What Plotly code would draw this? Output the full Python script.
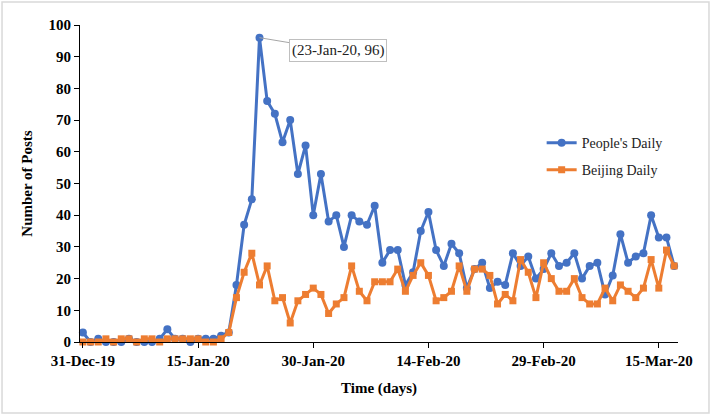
import pandas as pd
import plotly.graph_objects as go

start_date = "2019-12-31"
n_days = 78
dates = pd.date_range(start_date, periods=n_days, freq="D")

peoples_daily = [3, 0, 1, 0, 0, 0, 1, 0, 0, 0, 1, 4, 1, 1, 0, 1, 1, 1, 2, 3,
                 18, 37, 45, 96, 76, 72, 63, 70, 53, 62,
                 40, 53, 38, 40, 30, 40, 38, 37, 43, 25,
                 29, 29, 18, 22, 35, 41, 29, 24, 31, 28,
                 17, 23, 25, 17, 19, 18, 28, 24, 27, 20,
                 23, 28, 24, 25, 28, 20, 24, 25, 15, 21,
                 34, 25, 27, 28, 40, 33, 33, 24]

beijing_daily = [0, 0, 0, 1, 0, 1, 1, 0, 1, 1, 0, 1, 1, 1, 1, 1, 0, 0, 1, 3,
                 14, 22, 28, 18, 24, 13, 14, 6, 13, 15,
                 17, 15, 9, 12, 14, 24, 16, 13, 19, 19,
                 19, 23, 16, 21, 25, 21, 13, 14, 16, 24,
                 16, 23, 23, 21, 12, 15, 13, 26, 22, 14,
                 25, 20, 16, 16, 20, 14, 12, 12, 17, 13,
                 18, 16, 14, 17, 26, 17, 29, 24]

tick_dates = ["2019-12-31", "2020-01-15", "2020-01-30", "2020-02-14", "2020-02-29", "2020-03-15"]
tick_labels = ["31-Dec-19", "15-Jan-20", "30-Jan-20", "14-Feb-20", "29-Feb-20", "15-Mar-20"]

peak_date = "2020-01-23"
peak_value = 96
peak_label = "(23-Jan-20, 96)"

BLUE = "#4472C4"
ORANGE = "#ED7D31"
FONT = "Liberation Serif, Times New Roman, serif"

fig = go.Figure()
fig.add_trace(go.Scatter(
    x=dates, y=peoples_daily, name="People's Daily", mode="lines+markers",
    line=dict(color=BLUE, width=3), marker=dict(symbol="circle", size=8, color=BLUE),
    cliponaxis=False, legendgroup="a"))
fig.add_trace(go.Scatter(
    x=dates, y=beijing_daily, name="Beijing Daily", mode="lines+markers",
    line=dict(color=ORANGE, width=3), marker=dict(symbol="square", size=7, color=ORANGE),
    cliponaxis=False, legendgroup="b"))

fig.add_annotation(
    x=peak_date, y=peak_value, text=peak_label, showarrow=True, arrowhead=0,
    arrowwidth=1, arrowcolor="#a6a6a6", ax=78, ay=13,
    font=dict(family=FONT, size=15, color="#222222"),
    bgcolor="white", bordercolor="#bfbfbf", borderwidth=1, borderpad=2)

# outer chart frame
fig.add_shape(type="rect", xref="paper", yref="paper",
              x0=-0.1304, x1=1.0518, y0=-0.224, y1=1.0726,
              line=dict(color="#d9d9d9", width=1.5), layer="below")

fig.update_layout(
    width=712, height=416,
    margin=dict(l=80, r=34, t=25, b=74),
    paper_bgcolor="white", plot_bgcolor="white",
    font=dict(family=FONT, color="black"),
    showlegend=True,
    legend=dict(x=0.772, y=0.678, xanchor="left", yanchor="top",
                font=dict(family=FONT, size=14, color="#222222"),
                bgcolor="rgba(0,0,0,0)", traceorder="grouped", tracegroupgap=6),
    xaxis=dict(
        type="date", range=["2019-12-30 15:00", "2020-03-17 12:00"],
        tickvals=tick_dates, ticktext=tick_labels,
        tickfont=dict(family=FONT, size=15, color="black", weight="bold"),
        showgrid=False, zeroline=False, showline=True, linecolor="black", linewidth=1,
        ticks="outside", ticklen=5, tickcolor="black",
        title=dict(text="<b>Time (days)</b>", font=dict(family=FONT, size=15, color="black"),
                   standoff=14)),
    yaxis=dict(
        range=[0, 100], tickmode="linear", tick0=0, dtick=10,
        tickfont=dict(family=FONT, size=15, color="black", weight="bold"),
        showgrid=False, zeroline=False, showline=True, linecolor="black", linewidth=1,
        ticks="outside", ticklen=5, tickcolor="black",
        title=dict(text="<b>Number of Posts</b>", font=dict(family=FONT, size=15, color="black"),
                   standoff=12)),
)

fig.write_html("out.html", config={"displayModeBar": False},
               post_script="document.body.style.margin='0';")
